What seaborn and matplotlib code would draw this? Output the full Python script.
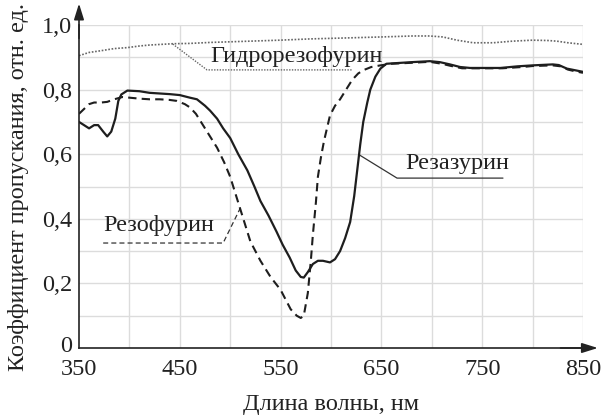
import numpy as np
import pandas as pd
import matplotlib
matplotlib.use("Agg")
import matplotlib.pyplot as plt
import matplotlib.transforms as mtransforms
import seaborn as sns

# ---- data ----
res_x = [350, 355, 360, 365, 369, 374, 378, 382, 386, 389, 392, 398, 410, 420, 430, 440, 450, 460, 467,
         475, 480, 487, 493, 500, 508, 517, 524, 530, 538, 546, 552, 559, 565, 570, 573, 577, 582, 587,
         592, 599, 604, 609, 614, 619, 623, 626, 629, 632, 636, 639, 644, 649, 655, 665, 680, 698, 708,
         718, 728, 738, 750, 768, 785, 800, 820, 826, 834, 842, 850]
res_y = [0.70, 0.69, 0.68, 0.69, 0.69, 0.67, 0.655, 0.67, 0.71, 0.765, 0.785, 0.797, 0.795, 0.79, 0.788,
         0.786, 0.783, 0.775, 0.77, 0.75, 0.735, 0.71, 0.68, 0.65, 0.60, 0.55, 0.50, 0.455, 0.41, 0.36,
         0.32, 0.28, 0.24, 0.22, 0.218, 0.235, 0.26, 0.27, 0.27, 0.265, 0.275, 0.30, 0.34, 0.39, 0.47,
         0.55, 0.63, 0.70, 0.76, 0.80, 0.84, 0.865, 0.88, 0.882, 0.885, 0.888, 0.885, 0.878, 0.87, 0.867,
         0.867, 0.867, 0.872, 0.875, 0.878, 0.876, 0.865, 0.86, 0.855]

rf_x = [350, 355, 360, 365, 372, 378, 385, 393, 400, 410, 420, 430, 440, 447, 455, 460, 466, 473, 480,
        487, 494, 500, 505, 510, 515, 520, 525, 530, 540, 550, 555, 560, 566, 570, 573, 577, 580, 582,
        585, 587, 590, 593, 599, 604, 609, 615, 621, 627, 632, 640, 649, 660, 680, 698, 710, 718, 730,
        750, 770, 790, 800, 820, 828, 835, 843, 850]
rf_y = [0.725, 0.74, 0.755, 0.76, 0.76, 0.762, 0.77, 0.777, 0.775, 0.772, 0.77, 0.77, 0.768, 0.765,
        0.755, 0.745, 0.725, 0.69, 0.655, 0.62, 0.575, 0.53, 0.48, 0.43, 0.38, 0.33, 0.30, 0.27, 0.22,
        0.18, 0.15, 0.12, 0.10, 0.093, 0.10, 0.17, 0.27, 0.35, 0.45, 0.53, 0.59, 0.64, 0.72, 0.75, 0.77,
        0.80, 0.83, 0.85, 0.86, 0.87, 0.875, 0.88, 0.883, 0.886, 0.88, 0.874, 0.866, 0.866, 0.866, 0.87,
        0.873, 0.875, 0.872, 0.862, 0.856, 0.852]

hrf_x = [350, 360, 371, 385, 398, 410, 420, 443, 460, 480, 500, 520, 549, 580, 616, 650, 681, 698, 711,
         725, 741, 761, 780, 800, 815, 824, 835, 850]
hrf_y = [0.905, 0.915, 0.92, 0.927, 0.93, 0.935, 0.938, 0.942, 0.943, 0.946, 0.948, 0.95, 0.953, 0.957,
         0.96, 0.963, 0.966, 0.966, 0.963, 0.953, 0.945, 0.945, 0.95, 0.953, 0.952, 0.95, 0.945, 0.94]

x_ticks = [350, 450, 550, 650, 750, 850]
y_ticks = [0, 0.2, 0.4, 0.6, 0.8, 1.0]
y_tick_labels = ["0", "0,2", "0,4", "0,6", "0,8", "1,0"]
x_label = "Длина волны, нм"
y_label = "Коэффициент пропускания, отн. ед."
names = ["Резазурин", "Резофурин", "Гидрорезофурин"]

# ---- plot ----
sns.set_theme(style="white")
plt.rcParams["font.family"] = ["Liberation Serif", "DejaVu Serif"]
FS = 17.5

fig = plt.figure(figsize=(6.10, 4.17), dpi=100)
ax = fig.add_axes([79/610, 1 - 348/417, (583 - 79)/610, (348 - 25)/417])

# grid
for gx in np.arange(400, 851, 50):
    ax.axvline(gx, color="#dcdcdc", lw=1.0, zorder=0)
for gy in np.arange(0.1, 1.01, 0.1):
    ax.axhline(gy, color="#dcdcdc", lw=1.0, zorder=0)

sns.lineplot(x=hrf_x, y=hrf_y, ax=ax, color="#666666", lw=1.2, linestyle=(0, (1, 1)), zorder=2)
sns.lineplot(x=rf_x, y=rf_y, ax=ax, color="#1e1e1e", lw=1.5, linestyle=(0, (4, 2.5)), zorder=3)
sns.lineplot(x=res_x, y=res_y, ax=ax, color="#1e1e1e", lw=1.6, linestyle="-", zorder=4)

ax.set_xlim(350, 850)
ax.set_ylim(0, 1.0)
ax.set_xticks(x_ticks)
ax.set_xticklabels([str(v) for v in x_ticks], fontsize=FS)
ax.set_yticks(y_ticks)
ax.set_yticklabels(y_tick_labels, fontsize=FS)
ax.tick_params(axis="both", length=3, width=1, color="#222222", colors="#222222")
ax.tick_params(axis="x", pad=5)
ax.tick_params(axis="y", pad=2)
# lift the "0" label slightly, as in the reference
lbl0 = ax.get_yticklabels()[0]
lbl0.set_transform(lbl0.get_transform() + mtransforms.ScaledTranslation(0, 4/100, fig.dpi_scale_trans))

ax.set_xlabel(x_label, fontsize=FS, color="#222222", labelpad=10)
ax.set_ylabel(y_label, fontsize=FS, color="#222222", labelpad=9)

for s in ["top", "right"]:
    ax.spines[s].set_visible(False)
for s in ["left", "bottom"]:
    ax.spines[s].set_color("#222222")
    ax.spines[s].set_linewidth(1.2)

# axis arrows
ax.annotate("", xy=(0, 1.075), xytext=(0, 0.95), xycoords="axes fraction",
            arrowprops=dict(arrowstyle="-|>,head_length=0.8,head_width=0.25", color="#222222", lw=1.2),
            annotation_clip=False)
ax.annotate("", xy=(1.035, 0), xytext=(0.95, 0), xycoords="axes fraction",
            arrowprops=dict(arrowstyle="-|>,head_length=0.8,head_width=0.25", color="#222222", lw=1.2),
            annotation_clip=False)

# annotations
ax.plot([443, 477, 621], [0.941, 0.861, 0.861], color="#666666", lw=1.0, linestyle=(0, (1, 1)), zorder=2)
ax.text(480, 0.885, names[2], fontsize=FS, color="#222222", ha="left", va="baseline")

ax.plot([628, 665.5, 770.6], [0.598, 0.526, 0.526], color="#333333", lw=0.9, zorder=2)
ax.text(674, 0.554, names[0], fontsize=FS, color="#222222", ha="left", va="baseline")

ax.plot([374, 493, 510], [0.325, 0.325, 0.433], color="#333333", lw=0.9, linestyle=(0, (4, 2.5)), zorder=2)
ax.text(374, 0.362, names[1], fontsize=FS, color="#222222", ha="left", va="baseline")

fig.savefig("out.png", dpi=100, facecolor="white")
